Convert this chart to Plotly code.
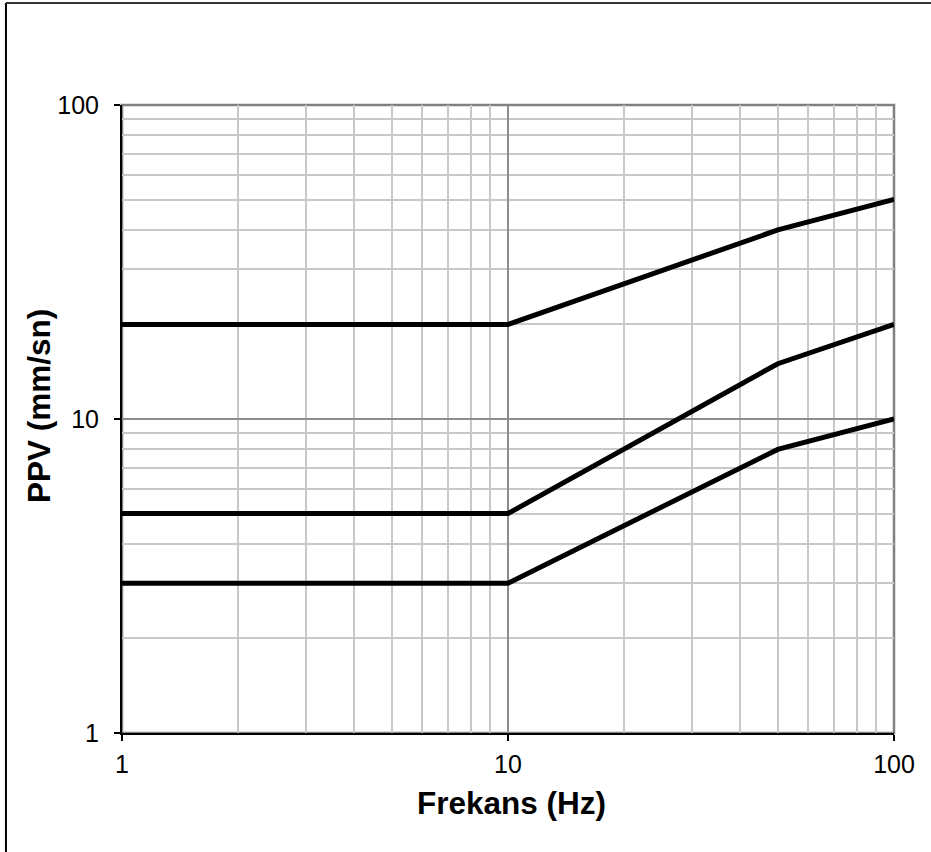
import plotly.graph_objects as go

# Frequency breakpoints (Hz) and PPV limits (mm/s) for each limit curve
freq = [1, 10, 50, 100]
ppv_upper = [20, 20, 40, 50]
ppv_middle = [5, 5, 15, 20]
ppv_lower = [3, 3, 8, 10]

major_vals = [1, 10, 100]
major_text = ["1", "10", "100"]
minor_vals = [m * d for d in (1, 10) for m in range(2, 10)]

FONT = "Liberation Sans, Arial, sans-serif"

fig = go.Figure()
for ys in (ppv_upper, ppv_middle, ppv_lower):
    fig.add_trace(go.Scatter(
        x=freq, y=ys, mode="lines",
        line=dict(color="black", width=5),
        showlegend=False, hoverinfo="skip",
    ))

axis_common = dict(
    type="log", range=[0, 2],
    tickvals=major_vals, ticktext=major_text,
    ticks="outside", ticklen=6, tickwidth=1.5, tickcolor="black",
    showline=True, linecolor="black", linewidth=2,
    showgrid=True, gridcolor="#8c8c8c", gridwidth=1.5,
    minor=dict(tickvals=minor_vals, showgrid=True,
               gridcolor="#c8c8c8", gridwidth=1.5, ticks=""),
    tickfont=dict(family=FONT, size=25, color="black"),
    zeroline=False, fixedrange=True,
)

fig.update_xaxes(**axis_common, ticklabelstandoff=2)
fig.update_yaxes(**axis_common, ticklabelstandoff=10)

fig.update_layout(
    width=931, height=852,
    margin=dict(l=122, r=37, t=105, b=119),
    paper_bgcolor="white", plot_bgcolor="white",
    shapes=[
        # gray plot-area border (top and right sides)
        dict(type="rect", xref="paper", yref="paper", x0=0, x1=1, y0=0, y1=1,
             line=dict(color="#808080", width=2.5), layer="below"),
        # outer chart frame (left and top edges)
        dict(type="line", xref="paper", yref="paper",
             x0=-0.1503, x1=-0.1503, y0=-0.2, y1=1.1624,
             line=dict(color="black", width=2)),
        dict(type="line", xref="paper", yref="paper",
             x0=-0.1503, x1=1.06, y0=1.1624, y1=1.1624,
             line=dict(color="#333333", width=2)),
    ],
    annotations=[
        dict(text="<b>Frekans (Hz)</b>", xref="paper", yref="paper",
             x=0.504, y=-0.1115, xanchor="center", yanchor="middle",
             showarrow=False, font=dict(family=FONT, size=31.5, color="black")),
        dict(text="<b>PPV (mm/sn)</b>", xref="paper", yref="paper",
             x=-0.1075, y=0.5207, xanchor="center", yanchor="middle",
             textangle=-90, showarrow=False,
             font=dict(family=FONT, size=31.5, color="black")),
    ],
)

fig.write_html("out.html")
